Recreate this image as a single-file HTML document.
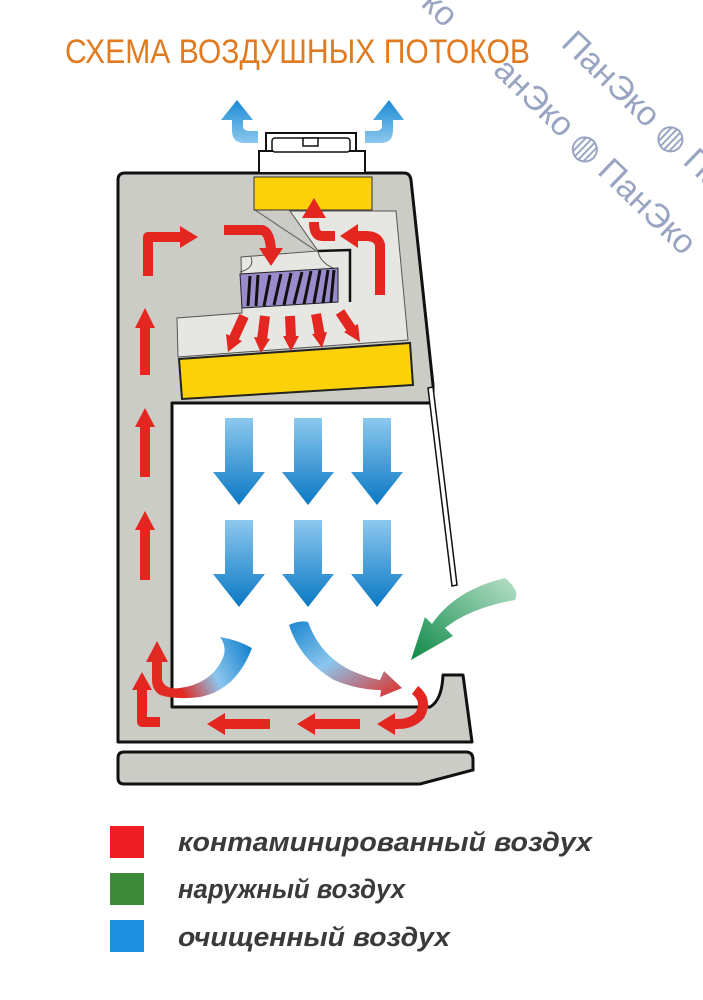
<!DOCTYPE html>
<html><head><meta charset="utf-8"><style>
html,body{margin:0;padding:0;background:#fff}
svg{display:block}
</style></head><body>
<svg width="703" height="1000" viewBox="0 0 703 1000" xmlns="http://www.w3.org/2000/svg">
<defs>
<linearGradient id="bl" x1="0" y1="0" x2="0" y2="1"><stop offset="0" stop-color="#8cc8ee"/><stop offset="1" stop-color="#0a78c4"/></linearGradient>
<linearGradient id="blu" x1="0" y1="1" x2="0" y2="0"><stop offset="0" stop-color="#8cc8ee"/><stop offset="1" stop-color="#1a8ad4"/></linearGradient>
<linearGradient id="gr" x1="1" y1="0" x2="0" y2="1"><stop offset="0" stop-color="#b8e0c8"/><stop offset="1" stop-color="#0d8a48"/></linearGradient>
<linearGradient id="fl" gradientUnits="userSpaceOnUse" x1="250" y1="650" x2="165" y2="690"><stop offset="0" stop-color="#1a86d0"/><stop offset="0.45" stop-color="#8cc6ee"/><stop offset="0.85" stop-color="#e02a22"/></linearGradient>
<linearGradient id="fr" x1="0" y1="0" x2="1" y2="1"><stop offset="0" stop-color="#1a86d0"/><stop offset="0.45" stop-color="#8cc6ee"/><stop offset="1" stop-color="#e02a22"/></linearGradient>
</defs>

<text x="65" y="63" font-family="Liberation Sans, sans-serif" font-size="34" fill="#e07b22" textLength="465" lengthAdjust="spacingAndGlyphs">СХЕМА ВОЗДУШНЫХ ПОТОКОВ</text>

<g fill="#8d9bbb" font-family="Liberation Sans, sans-serif" font-size="34" opacity="0.9">
<text transform="translate(560,45) rotate(44)">ПанЭко ◍ ПанЭко</text>
<text transform="translate(492,72) rotate(44)">анЭко ◍ ПанЭко</text>
<text transform="translate(420,5) rotate(44)">ко</text>
</g>

<path d="M125,173 L404,173 Q410,173 411,180 L433,385 L433,403 L172,403 L172,707 L430,707 Q442,700 443,675 L463,675 L472,742 L118,742 L118,180 Q118,173 125,173 Z" fill="#ccccc6" stroke="#111" stroke-width="3" stroke-linejoin="round"/>
<path d="M124,752 L466,752 Q473,752 473,760 L473,770 L420,784 L124,784 Q118,784 118,778 L118,758 Q118,752 124,752 Z" fill="#ccccc6" stroke="#111" stroke-width="3"/>
<polygon points="428,388 433,387 457,585 452,586" fill="#fff" stroke="#111" stroke-width="1.5"/>

<rect x="259" y="151" width="106" height="22" fill="#fff" stroke="#111" stroke-width="2"/>
<rect x="266" y="133" width="90" height="18" fill="#fff" stroke="#111" stroke-width="2"/>
<rect x="272" y="138" width="78" height="14" rx="3" fill="#fff" stroke="#111" stroke-width="1.5"/>
<rect x="303" y="138" width="15" height="8" fill="#fff" stroke="#111" stroke-width="1.5"/>

<polygon points="290,211 396,211 408,340 178,357 177,318 242,313 241,257 318,251" fill="#e6e7e3" stroke="#555" stroke-width="1"/>
<line x1="255" y1="210" x2="318" y2="252" stroke="#555" stroke-width="1"/>
<polyline points="318,251 350,250 350,302" fill="none" stroke="#111" stroke-width="2.5"/>
<rect x="254" y="177" width="118" height="33" fill="#fbd10a" stroke="#333" stroke-width="1"/>
<path d="M251,257 Q255,268 240,272 M318,251 Q320,264 338,270" fill="none" stroke="#555" stroke-width="1"/>
<polygon points="240,274 338,268 338,302 242,308" fill="#9a8ccc" stroke="#222" stroke-width="1"/>
<g stroke="#111" stroke-width="3">
<line x1="248" y1="306" x2="250" y2="276"/><line x1="256" y1="306" x2="258" y2="275"/><line x1="264" y1="306" x2="270" y2="275"/>
<line x1="274" y1="305" x2="281" y2="274"/><line x1="284" y1="305" x2="291" y2="273"/><line x1="294" y1="304" x2="302" y2="272"/>
<line x1="304" y1="304" x2="311" y2="271"/><line x1="314" y1="303" x2="320" y2="270"/><line x1="323" y1="303" x2="328" y2="270"/><line x1="331" y1="302" x2="334" y2="270"/>
</g>
<polygon points="179,359 410,343 413,385 182,399" fill="#fbd10a" stroke="#222" stroke-width="2"/>

<g fill="none" stroke="#e3261f" stroke-width="10" stroke-linejoin="round">
<path d="M148,276 L148,237 L182,237"/>
<path d="M224,230 L262,230 Q270,232 271,250"/>
<path d="M380,295 L380,245 Q378,236 366,236 L355,236"/>
<path d="M335,236 L322,236 Q314,236 314,222"/>
<path d="M145,375 L145,325"/><path d="M145,477 L145,424"/><path d="M145,580 L145,527"/>
<path d="M160,722 L142,722 L142,688"/>
<path d="M270,724 L222,724"/><path d="M360,724 L312,724"/>
<path d="M415,690 Q428,700 420,715 Q412,724 398,724 L390,724"/>
<path d="M244,316 L234,338"/><path d="M265,316 L262,340"/><path d="M290,316 L291,338"/><path d="M316,314 L320,336"/><path d="M340,312 L352,330"/>
</g>
<g fill="#e3261f">
<polygon points="180,226 198,237 180,248"/>
<polygon points="259,248 283,248 271,266"/>
<polygon points="358,224 340,236 358,248"/>
<polygon points="302,218 326,218 314,198"/>
<polygon points="135,328 155,328 145,308"/><polygon points="135,427 155,427 145,408"/><polygon points="135,530 155,530 145,511"/>
<polygon points="132,690 152,690 142,672"/>
<polygon points="225,713 225,735 207,724"/><polygon points="315,713 315,735 297,724"/><polygon points="395,713 395,735 377,724"/>
<polygon points="226,334 242,341 228,352"/><polygon points="254,337 270,339 261,353"/><polygon points="283,336 299,336 291,351"/><polygon points="312,334 327,332 322,348"/><polygon points="344,332 358,324 360,342"/>
</g>

<path d="M258,143 L244,143 Q232,143 232,130 L232,120 L221,120 L237,100 L253,120 L243,120 L243,126 Q243,131 250,131 L258,131 Z" fill="url(#blu)"/>
<path d="M365,143 L381,143 Q393,143 393,130 L393,120 L404,120 L389,100 L373,120 L382,120 L382,126 Q382,131 375,131 L365,131 Z" fill="url(#blu)"/>

<g fill="url(#bl)">
<polygon points="225,418 253,418 253,472 265,472 239,505 213,472 225,472"/>
<polygon points="294,418 322,418 322,472 334,472 308,505 282,472 294,472"/>
<polygon points="363,418 391,418 391,472 403,472 377,505 351,472 363,472"/>
<polygon points="225,520 253,520 253,574 265,574 239,607 213,574 225,574"/>
<polygon points="294,520 322,520 322,574 334,574 308,607 282,574 294,574"/>
<polygon points="363,520 391,520 391,574 403,574 377,607 351,574 363,574"/>
</g>

<path d="M152,680 L152,662 L146,662 L157,641 L168,662 L162,662 L162,680 Q165,690 180,688 Q210,684 222,660 Q228,648 220,637 Q238,640 252,648 Q236,690 200,697 Q176,700 160,695 Q152,690 152,680 Z" fill="url(#fl)"/>
<path d="M289,625 Q300,620 308,622 Q320,655 350,670 Q368,678 380,680 L384,671 L402,688 L380,697 L381,690 Q358,690 334,680 Q300,660 289,625 Z" fill="url(#fr)"/>
<path d="M505,578 Q520,590 515,600 Q470,608 445,628 L453,636 L411,660 L425,617 L432,624 Q455,590 505,578 Z" fill="url(#gr)"/>

<rect x="110" y="826" width="34" height="32" fill="#ee1c24"/>
<rect x="110" y="873" width="34" height="32" fill="#3d8a38"/>
<rect x="110" y="920" width="34" height="32" fill="#1d8fde"/>
<g font-family="Liberation Sans, sans-serif" font-size="27" font-weight="bold" font-style="italic" fill="#3a3a3a">
<text x="178" y="851" textLength="414" lengthAdjust="spacingAndGlyphs">контаминированный воздух</text>
<text x="178" y="898" textLength="227" lengthAdjust="spacingAndGlyphs">наружный воздух</text>
<text x="178" y="946" textLength="272" lengthAdjust="spacingAndGlyphs">очищенный воздух</text>
</g>
</svg>
</body></html>
